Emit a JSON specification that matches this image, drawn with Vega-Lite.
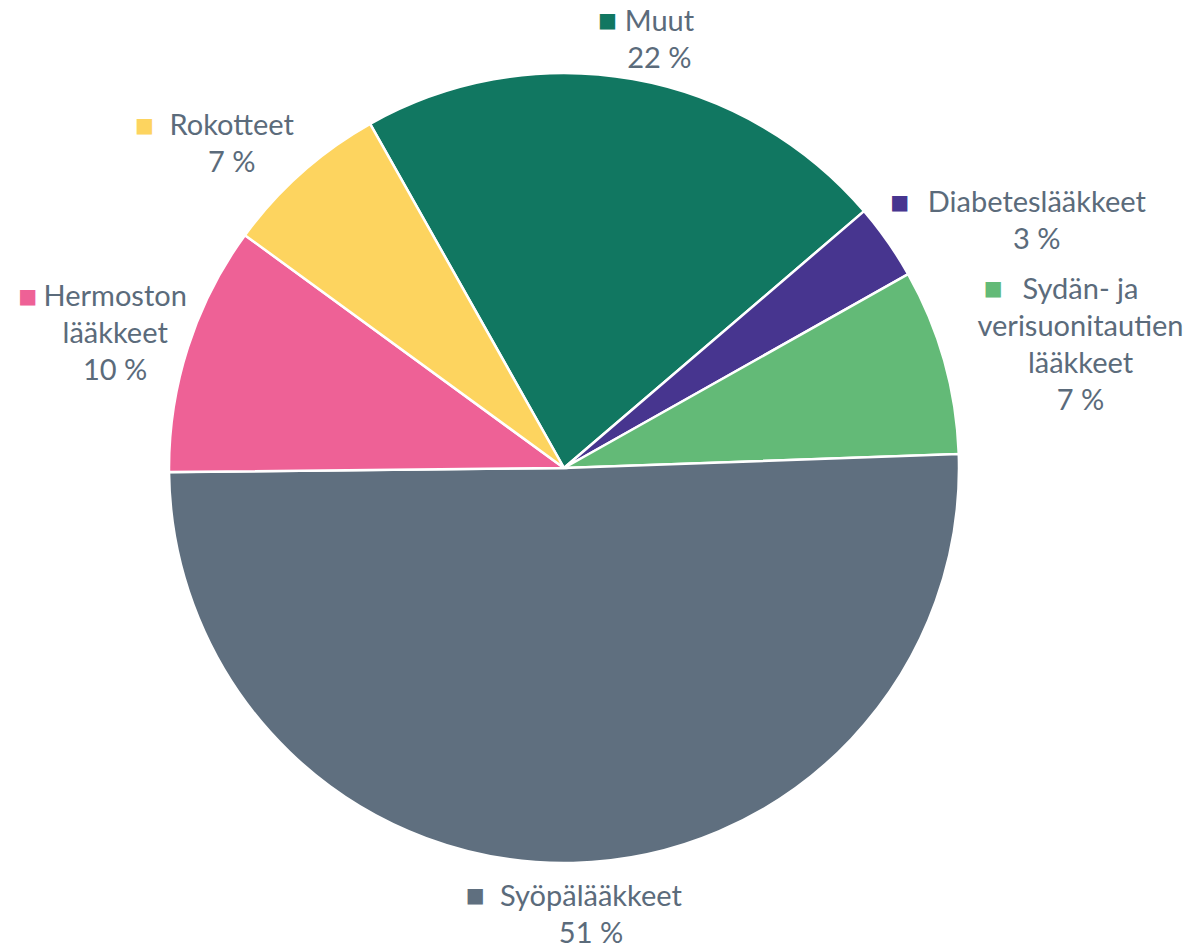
{
  "$schema": "https://vega.github.io/schema/vega-lite/v6.json",
  "width": 1128,
  "height": 936,
  "autosize": {"type": "none"},
  "padding": {"left": 0, "top": 0, "right": 66, "bottom": 16},
  "background": "white",
  "config": {"view": {"stroke": null}},
  "data": {
    "values": [
      {"kategoria": "Muut", "osuus": 21.9, "jarjestys": 1, "teksti": "Muut\n22 %"},
      {"kategoria": "Diabeteslääkkeet", "osuus": 3.1, "jarjestys": 2, "teksti": "Diabeteslääkkeet\n3 %"},
      {"kategoria": "Sydän- ja verisuonitautien lääkkeet", "osuus": 7.6, "jarjestys": 3, "teksti": "Sydän- ja\nverisuonitautien\nlääkkeet\n7 %"},
      {"kategoria": "Syöpälääkkeet", "osuus": 50.4, "jarjestys": 4, "teksti": "Syöpälääkkeet\n51 %"},
      {"kategoria": "Hermoston lääkkeet", "osuus": 10.2, "jarjestys": 5, "teksti": "Hermoston\nlääkkeet\n10 %"},
      {"kategoria": "Rokotteet", "osuus": 6.8, "jarjestys": 6, "teksti": "Rokotteet\n7 %"}
    ]
  },
  "encoding": {
    "theta": {
      "field": "osuus",
      "type": "quantitative",
      "stack": true,
      "scale": {"domain": [0, 100], "range": [-0.5131, 5.7701]}
    },
    "order": {"field": "jarjestys", "type": "quantitative"},
    "color": {
      "field": "kategoria",
      "type": "nominal",
      "legend": null,
      "scale": {
        "domain": ["Muut", "Diabeteslääkkeet", "Sydän- ja verisuonitautien lääkkeet", "Syöpälääkkeet", "Hermoston lääkkeet", "Rokotteet"],
        "range": ["#117761", "#47358F", "#63BA77", "#5F6F7F", "#EE6196", "#FDD45F"]
      }
    }
  },
  "layer": [
    {
      "mark": {"type": "arc", "outerRadius": 395, "stroke": "white", "strokeWidth": 2.5}
    },
    {
      "mark": {
        "type": "text",
        "radius": 404,
        "font": "DejaVu Sans",
        "fontSize": 20,
        "baseline": "alphabetic",
        "align": "right",
        "dx": {"expr": "clamp(1.5*sin(-0.5131 + PI*(datum.osuus_start + datum.osuus_end)/100), -1, 1) * 7.1 * max(length(split(datum.teksti, '\\n')[0]) + 2, length(split(datum.teksti, '\\n')[1] || ''), length(split(datum.teksti, '\\n')[2] || ''), length(split(datum.teksti, '\\n')[3] || '')) + 14 - 7.1 * length(split(datum.teksti, '\\n')[0]) - 14"},
        "dy": {"expr": "-cos(-0.5131 + PI*(datum.osuus_start + datum.osuus_end)/100) * 18.5 * length(split(datum.teksti, '\\n')) - 18.5 * length(split(datum.teksti, '\\n')) + 30.5"}
      },
      "encoding": {"text": {"value": "■"}}
    },
    {
      "mark": {
        "type": "text",
        "radius": 404,
        "font": "Lato",
        "fontSize": 29,
        "baseline": "alphabetic",
        "align": "center",
        "lineBreak": "\n",
        "lineHeight": 37,
        "dx": {"expr": "clamp(1.5*sin(-0.5131 + PI*(datum.osuus_start + datum.osuus_end)/100), -1, 1) * 7.1 * max(length(split(datum.teksti, '\\n')[0]) + 2, length(split(datum.teksti, '\\n')[1] || ''), length(split(datum.teksti, '\\n')[2] || ''), length(split(datum.teksti, '\\n')[3] || '')) + 14"},
        "dy": {"expr": "-cos(-0.5131 + PI*(datum.osuus_start + datum.osuus_end)/100) * 18.5 * length(split(datum.teksti, '\\n')) - 18.5 * length(split(datum.teksti, '\\n')) + 34"}
      },
      "encoding": {"text": {"field": "teksti"}, "color": {"value": "#5B6B7B"}}
    }
  ]
}
